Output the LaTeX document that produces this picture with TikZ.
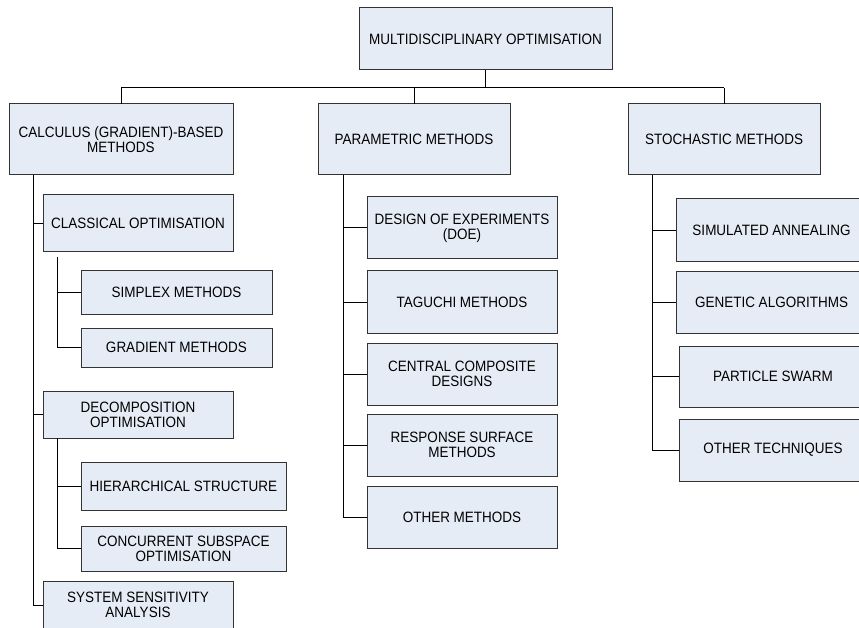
\documentclass[tikz,border=0pt]{standalone}
\usepackage{fontspec}
\setmainfont{Liberation Sans}[FakeStretch=0.9]
\definecolor{boxfill}{HTML}{E6ECF6}
\definecolor{boxline}{HTML}{333333}
\begin{document}
\begin{tikzpicture}[x=1pt,y=-1pt,
  box/.style={draw=boxline, fill=boxfill, line width=1pt, inner sep=0pt, outer sep=0pt,
    align=center, font=\fontsize{15}{15}\selectfont, text=black},
  link/.style={draw=black, line width=1pt}]
\useasboundingbox (0,0) rectangle (859,628);
\clip (0,0) rectangle (859,628);
% node macro: center from corners
\newcommand{\bx}[6]{\node[box, minimum width={#4-#2}, minimum height={#5-#3}] (#1) at ({(#2+#4)/2},{(#3+#5)/2}) {#6};}
\bx{top}{359}{8}{612}{70}{MULTIDISCIPLINARY OPTIMISATION}
\bx{calc}{9}{104}{233}{175}{CALCULUS (GRADIENT)-BASED\\METHODS}
\bx{param}{318}{104}{510}{175}{PARAMETRIC METHODS}
\bx{stoch}{628}{104}{820}{175}{STOCHASTIC METHODS}
\bx{classical}{43}{195}{233}{252}{CLASSICAL OPTIMISATION}
\bx{simplex}{81}{271}{272}{314}{SIMPLEX METHODS}
\bx{gradient}{81}{328}{272}{367}{GRADIENT METHODS}
\bx{decomp}{43}{391}{233}{438}{DECOMPOSITION\\OPTIMISATION}
\bx{hier}{81}{462}{286}{510}{HIERARCHICAL STRUCTURE}
\bx{concur}{81}{526}{286}{571}{CONCURRENT SUBSPACE\\OPTIMISATION}
\node[box, minimum width=190, minimum height=60, anchor=north west, text depth=0pt] (system) at (43,581) {};
\node[align=center, font=\fontsize{15}{15}\selectfont, inner sep=0pt] (systext) at (138,605) {SYSTEM SENSITIVITY\\ANALYSIS};
\bx{doe}{367}{197}{557}{259}{DESIGN OF EXPERIMENTS\\(DOE)}
\bx{taguchi}{367}{271}{557}{333}{TAGUCHI METHODS}
\bx{central}{367}{343}{557}{405}{CENTRAL COMPOSITE\\DESIGNS}
\bx{response}{367}{414}{557}{476}{RESPONSE SURFACE\\METHODS}
\bx{othermeth}{367}{486}{557}{548}{OTHER METHODS}
\bx{sim}{676}{199}{867}{262}{SIMULATED ANNEALING}
\bx{genetic}{676}{272}{867}{333}{GENETIC ALGORITHMS}
\bx{particle}{679}{346}{867}{407}{PARTICLE SWARM}
\bx{othertech}{679}{419}{867}{481}{OTHER TECHNIQUES}
% top level bus
\coordinate (bus) at (0,88);
\draw[link] (top.south) -- (top.south |- bus);
\draw[link] (calc.north |- bus) -- (stoch.north |- bus);
\draw[link] (calc.north |- bus) -- (calc.north);
\draw[link] (param.north |- bus) -- (param.north);
\draw[link] (stoch.north |- bus) -- (stoch.north);
% calculus trunk
\coordinate (ct) at ([xshift=24pt]calc.south west);
\draw[link] (ct) |- (systext.west -| system.west);
\draw[link] (ct |- classical.west) -- (classical.west);
\draw[link] (ct |- decomp.west) -- (decomp.west);
% classical sub-trunk
\coordinate (cst) at ([xshift=14pt,yshift=-5pt]classical.south west);
\draw[link] (cst) |- (gradient.west);
\draw[link] (cst |- simplex.west) -- (simplex.west);
% decomposition sub-trunk
\coordinate (dst) at ([xshift=14pt]decomp.south west);
\draw[link] (dst) |- (concur.west);
\draw[link] (dst |- hier.west) -- (hier.west);
% parametric trunk
\coordinate (pt) at ([xshift=25pt]param.south west);
\draw[link] (pt) |- (othermeth.west);
\foreach \n in {doe,taguchi,central,response}
  \draw[link] (pt |- \n.west) -- (\n.west);
% stochastic trunk
\coordinate (st) at ([xshift=24pt]stoch.south west);
\draw[link] (st) |- (othertech.west);
\foreach \n in {sim,genetic,particle}
  \draw[link] (st |- \n.west) -- (\n.west);
\end{tikzpicture}
\end{document}
